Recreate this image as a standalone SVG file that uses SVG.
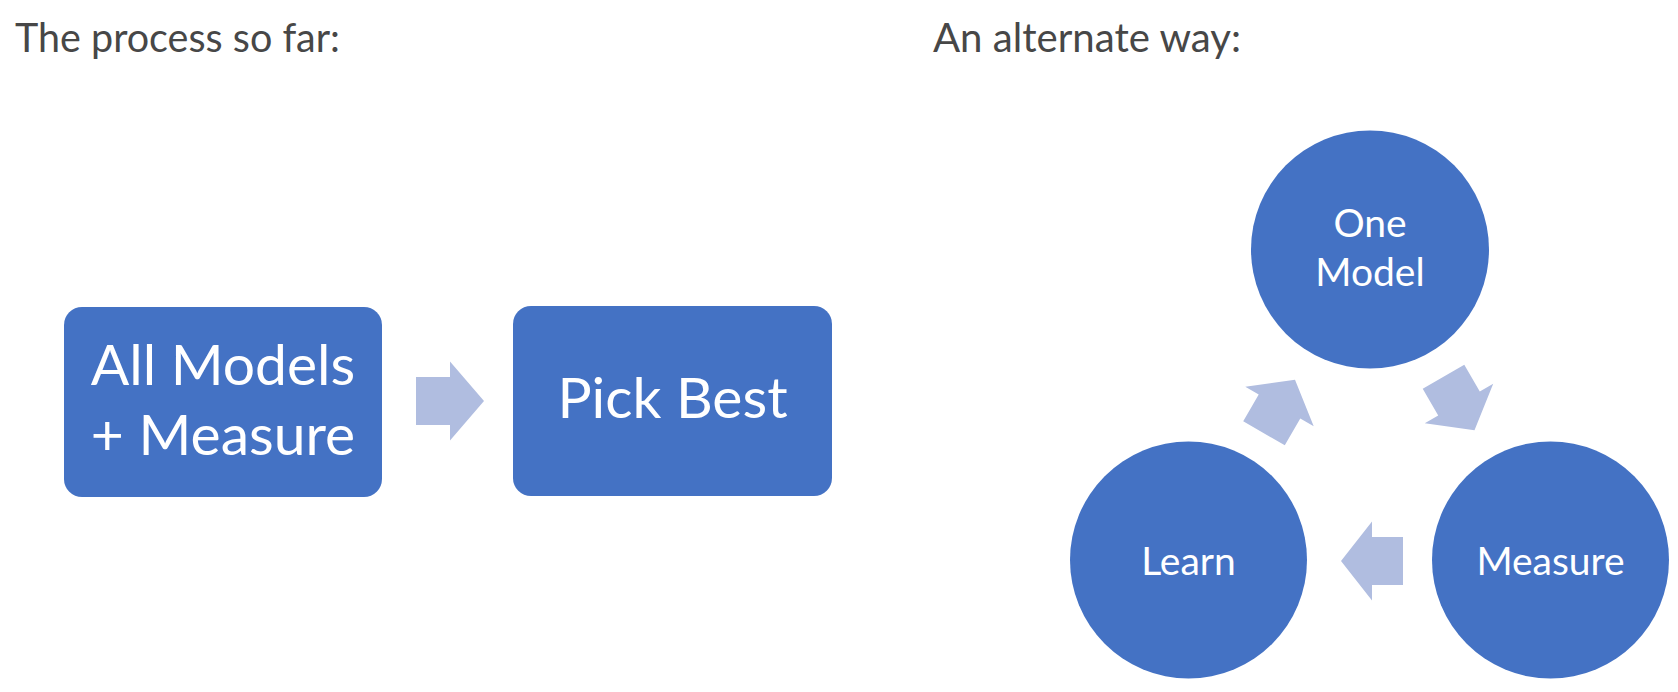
<svg xmlns="http://www.w3.org/2000/svg" width="1678" height="692" viewBox="0 0 1678 692">
<style>
.title{font-family:Lato,"Open Sans",sans-serif;font-size:40px;fill:#474747}
.node{fill:#4472C4}
.lbl{font-family:Lato,"Noto Sans",sans-serif;fill:#FFFFFF;text-anchor:middle}
.big{font-size:57px}
.small{font-size:39px}
.arr{fill:#B0BDE0}
</style>
<defs>
<polygon id="ca" points="-31,-24 0,-24 0,-39.5 31,0 0,39.5 0,24 -31,24"/>
</defs>
<rect width="1678" height="692" fill="#FFFFFF"/>
<text class="title" x="15" y="52" textLength="325" lengthAdjust="spacingAndGlyphs">The process so far:</text>
<text class="title" x="933" y="52" textLength="308" lengthAdjust="spacingAndGlyphs">An alternate way:</text>
<g id="all-models">
<rect class="node" x="64" y="307" width="318" height="190" rx="18"/>
<text class="lbl big" x="223" y="385">All Models</text>
<text class="lbl big" x="223" y="455">+ Measure</text>
</g>
<g id="pick-best">
<rect class="node" x="513" y="306" width="319" height="190" rx="18"/>
<text class="lbl big" x="672.5" y="418">Pick Best</text>
</g>
<g id="one-model">
<circle class="node" cx="1370" cy="249.5" r="119"/>
<text class="lbl small" x="1370" y="237">One</text>
<text class="lbl small" x="1370" y="286">Model</text>
</g>
<g id="measure">
<circle class="node" cx="1550.5" cy="560" r="118.5"/>
<text class="lbl small" x="1550.5" y="575">Measure</text>
</g>
<g id="learn">
<circle class="node" cx="1188.5" cy="560" r="118.5"/>
<text class="lbl small" x="1188.5" y="575">Learn</text>
</g>
<g id="connectors">
<polygon class="arr" points="416,377 450,377 450,361.5 484,401 450,440.5 450,425 416,425"/>
<use href="#ca" class="arr" transform="translate(1459,403.5) rotate(60)"/>
<use href="#ca" class="arr" transform="translate(1372,561) rotate(180)"/>
<use href="#ca" class="arr" transform="translate(1279.5,406.5) rotate(-60)"/>
</g>
</svg>
